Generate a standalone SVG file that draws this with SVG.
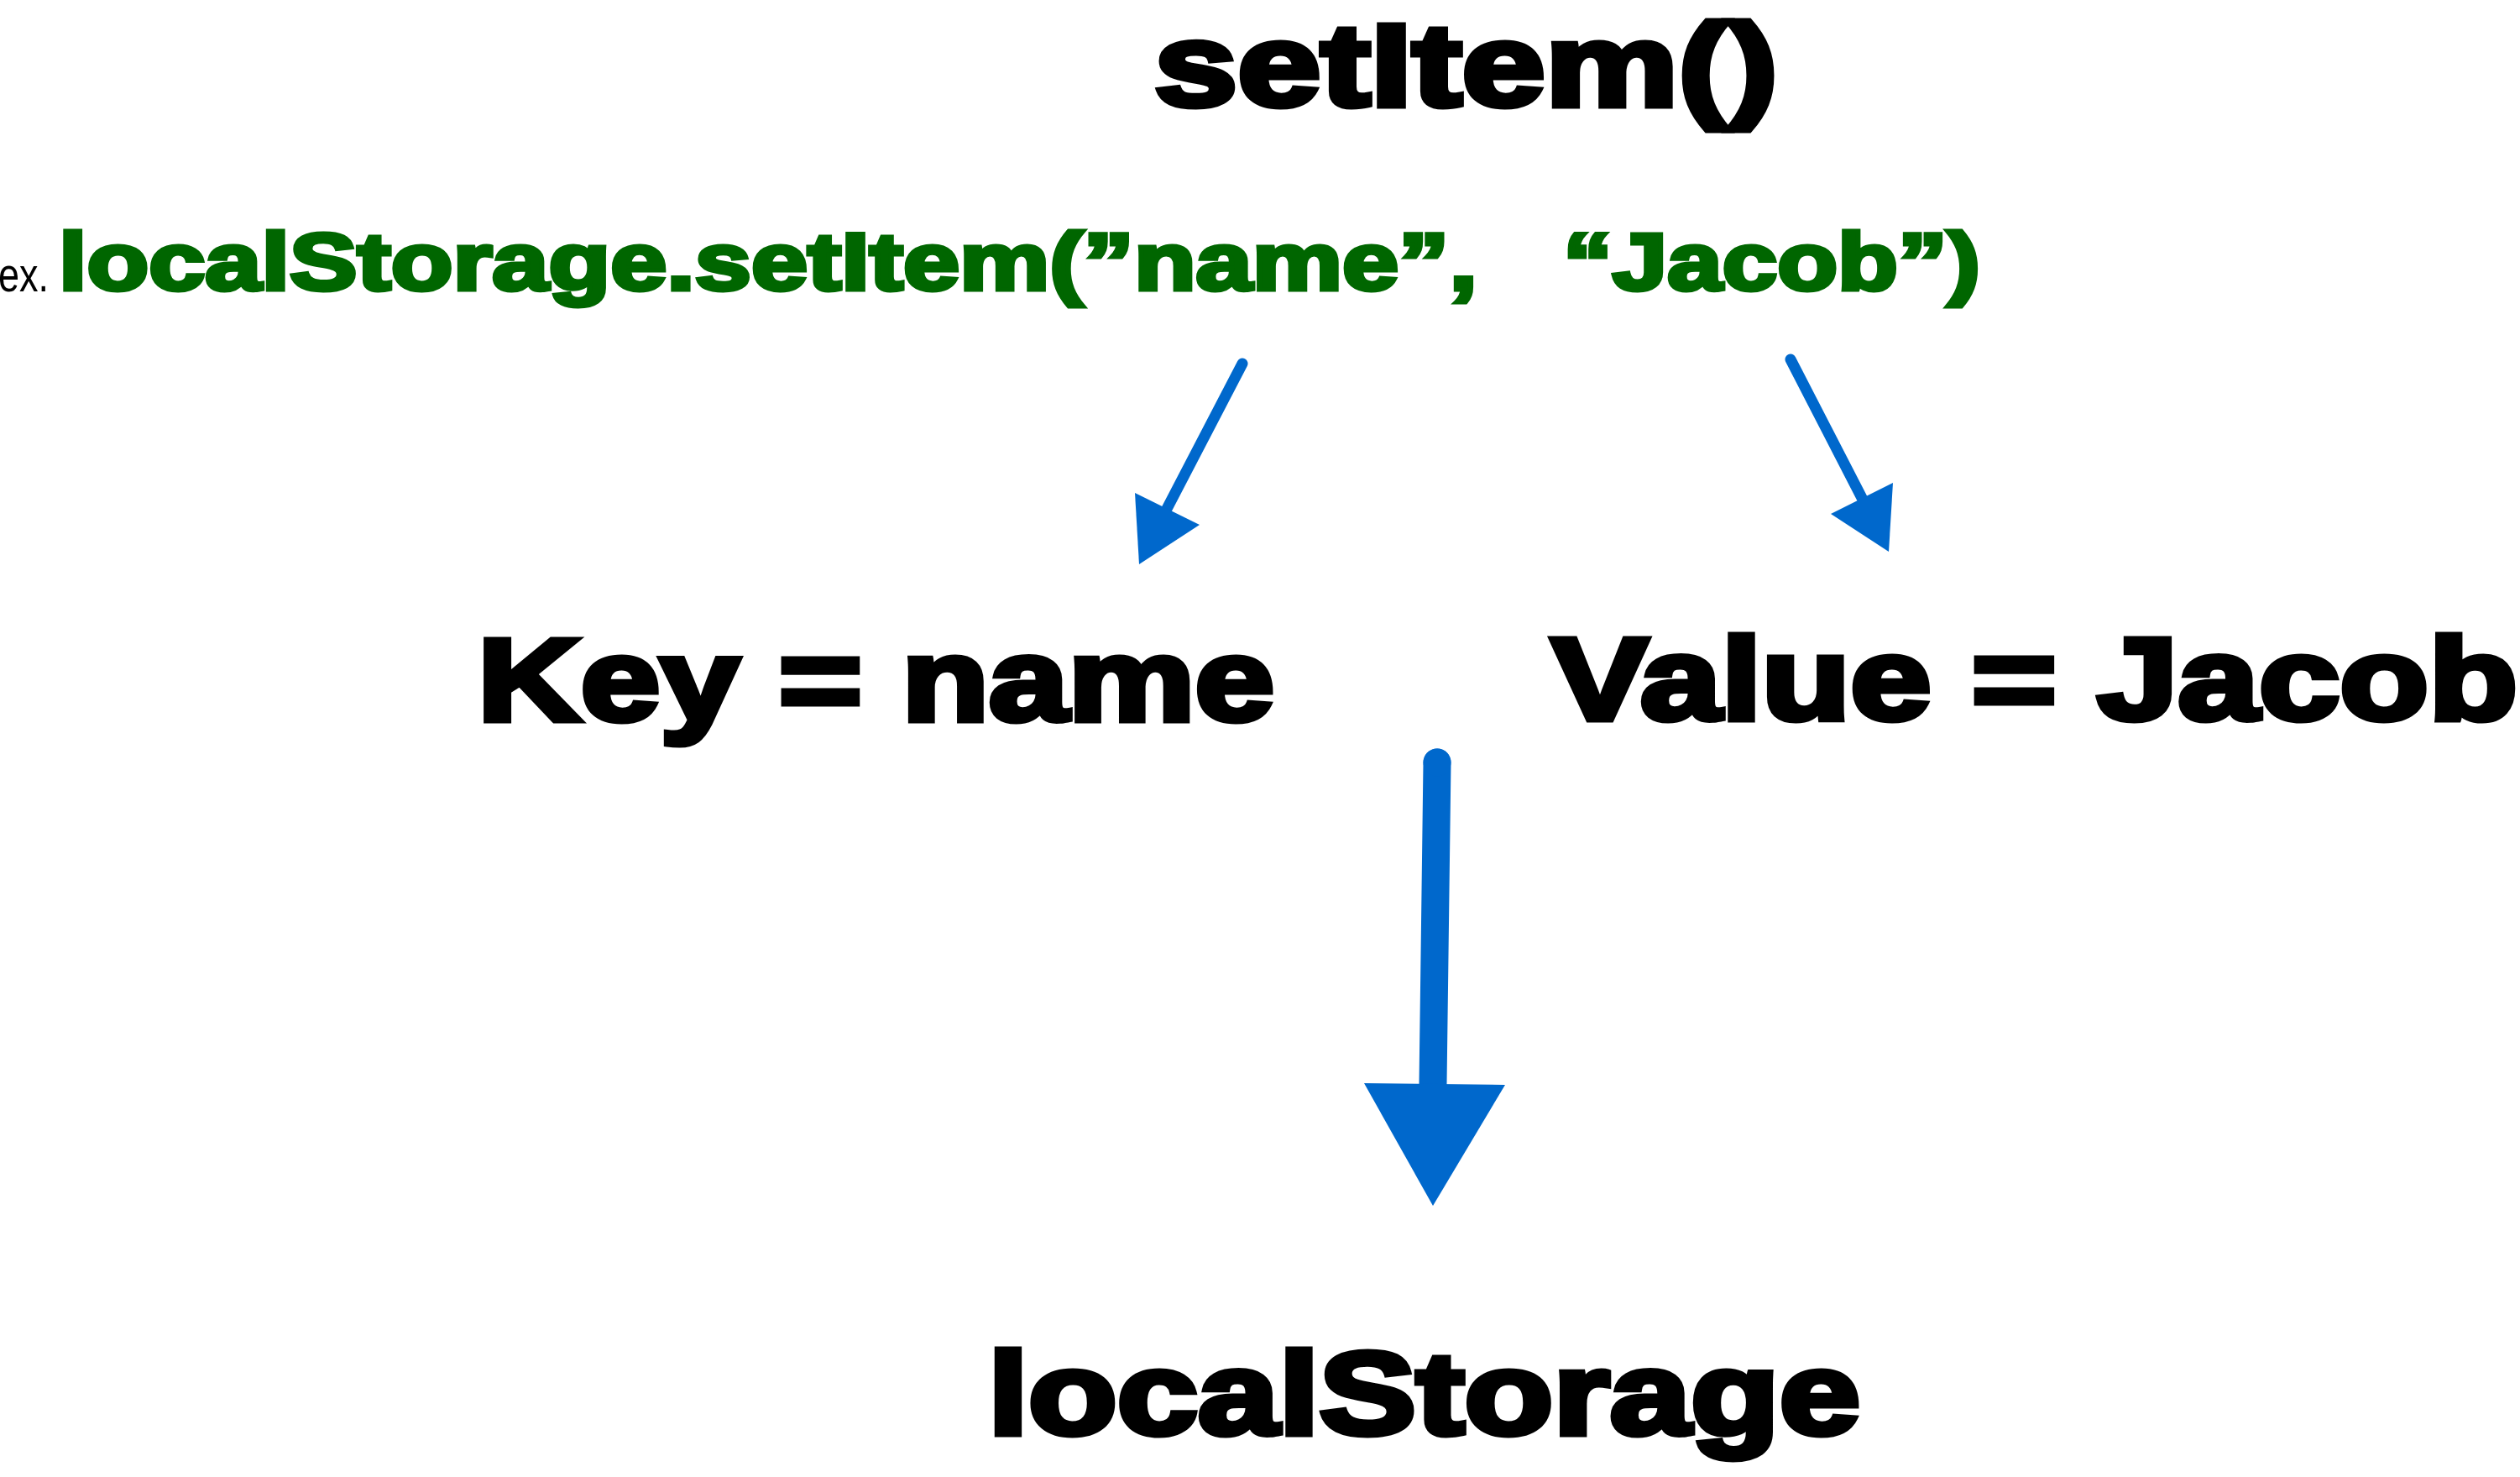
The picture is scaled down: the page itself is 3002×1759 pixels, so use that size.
<svg xmlns="http://www.w3.org/2000/svg" width="3002" height="1759" viewBox="0 0 3002 1759">
<style>
.heavy{font-family:"Liberation Sans",Arial,sans-serif;font-weight:bold;fill:#000;stroke:#000;stroke-linejoin:miter}
.big{font-size:140px;stroke-width:7}
.code{font-size:97px;fill:#006600;stroke:#006600;stroke-width:5}
.small{font-family:"Liberation Sans",Arial,sans-serif;font-size:57px;fill:#000}
.conn{stroke:#0068CC;fill:none;stroke-linecap:round}
.head{fill:#0068CC;stroke:none}
</style>
<rect width="3002" height="1759" fill="#fff"/>
<g id="title">
<text class="heavy big" x="1375" y="126" textLength="743" lengthAdjust="spacingAndGlyphs">setItem()</text>
</g>
<g id="example">
<text class="small" x="-2" y="347" textLength="60" lengthAdjust="spacingAndGlyphs">ex.</text>
<text class="heavy code" x="70" y="345" textLength="1690" lengthAdjust="spacingAndGlyphs">localStorage.setItem(”name”,</text>
<text class="heavy code" x="1862" y="345" textLength="497" lengthAdjust="spacingAndGlyphs">“Jacob”)</text>
</g>
<g id="key">
<text class="heavy big" x="569" y="858" textLength="949" lengthAdjust="spacingAndGlyphs">Key = name</text>
</g>
<g id="value">
<text class="heavy big" x="1848" y="857" textLength="1151" lengthAdjust="spacingAndGlyphs">Value = Jacob</text>
</g>
<g id="storage">
<text class="heavy big" x="1177" y="1708" textLength="1039" lengthAdjust="spacingAndGlyphs">localStorage</text>
</g>
<g id="connectors">
<line class="conn" x1="1480" y1="433" x2="1390" y2="606" stroke-width="13"/>
<polygon class="head" points="1352,587 1429,625 1357,672"/>
<line class="conn" x1="2133" y1="428" x2="2218" y2="593" stroke-width="13"/>
<polygon class="head" points="2255,575 2181,612 2250,657"/>
<path class="conn" d="M1712,908 L1707,1291" stroke-width="33" stroke-linecap="butt"/>
<circle class="head" cx="1712" cy="908" r="16.5"/>
<polygon class="head" points="1625,1290 1793,1292 1707,1436"/>
</g>
</svg>
